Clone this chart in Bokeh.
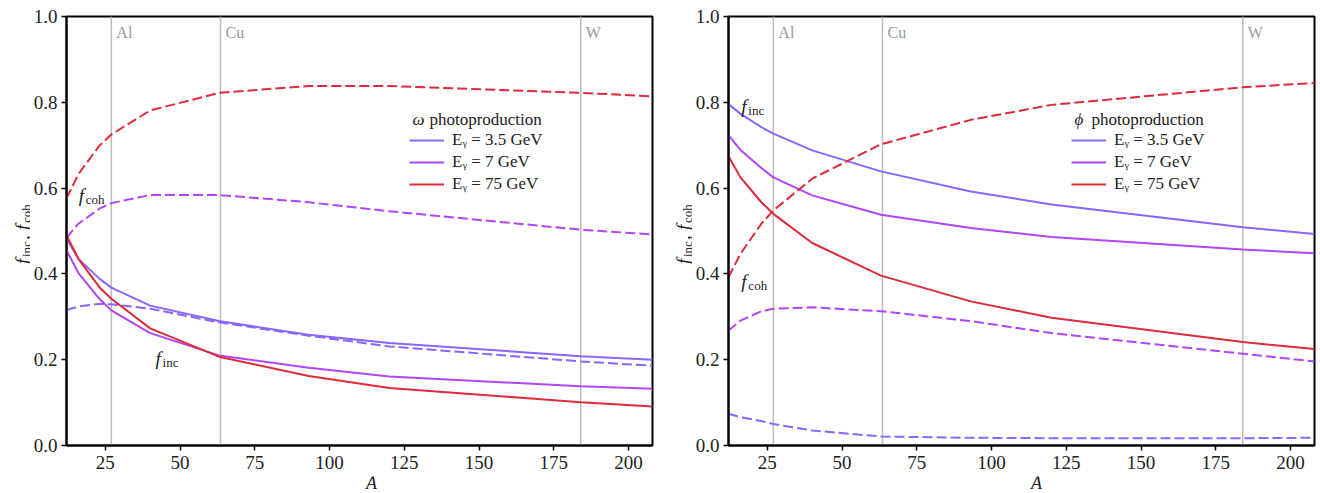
import math
from bokeh.plotting import figure
from bokeh.models import (Span, Label, Legend, LegendItem, FixedTicker,
                          NumeralTickFormatter, Range1d)
from bokeh.layouts import row, column
from bokeh.embed import file_html
from bokeh.resources import INLINE

# ---------------- data ----------------
A = [12, 16, 23, 27, 40, 63, 93, 120, 184, 208]

energies = ["3.5", "7", "75"]

omega_inc_35 = [0.482, 0.435, 0.389, 0.368, 0.326, 0.290, 0.258, 0.239, 0.208, 0.200]
omega_coh_35 = [0.316, 0.324, 0.330, 0.329, 0.319, 0.287, 0.256, 0.231, 0.196, 0.186]
omega_inc_7 = [0.455, 0.402, 0.342, 0.315, 0.262, 0.210, 0.181, 0.161, 0.138, 0.132]
omega_coh_7 = [0.484, 0.517, 0.552, 0.565, 0.584, 0.584, 0.567, 0.546, 0.503, 0.492]
omega_inc_75 = [0.490, 0.435, 0.369, 0.342, 0.273, 0.207, 0.162, 0.134, 0.101, 0.091]
omega_coh_75 = [0.576, 0.633, 0.699, 0.725, 0.781, 0.822, 0.838, 0.838, 0.822, 0.814]

phi_inc_35 = [0.796, 0.773, 0.742, 0.727, 0.688, 0.639, 0.592, 0.562, 0.509, 0.493]
phi_coh_35 = [0.074, 0.066, 0.057, 0.050, 0.035, 0.021, 0.018, 0.017, 0.017, 0.018]
phi_inc_7 = [0.723, 0.689, 0.647, 0.625, 0.583, 0.538, 0.507, 0.486, 0.457, 0.448]
phi_coh_7 = [0.268, 0.291, 0.313, 0.319, 0.322, 0.313, 0.290, 0.262, 0.214, 0.196]
phi_inc_75 = [0.674, 0.625, 0.567, 0.540, 0.472, 0.396, 0.336, 0.298, 0.241, 0.225]
phi_coh_75 = [0.392, 0.447, 0.517, 0.548, 0.622, 0.702, 0.759, 0.794, 0.835, 0.845]

elements = ["Al", "Cu", "W"]
element_A = [27, 63.5, 184]

x_ticks = [25, 50, 75, 100, 125, 150, 175, 200]
y_ticks = [0.0, 0.2, 0.4, 0.6, 0.8, 1.0]

# ---------------- style ----------------
colors = ["#8866ff", "#b144ff", "#e02a3a"]
SERIF = "Liberation Serif"
INK = "#222222"
FRAME_W, FRAME_H = 586, 429
TOP, BOTTOM, LEFT = 16, 31, 36
TOTAL_H = 493
LABEL_W = 30


def lab(p, x, y, text, size, style="normal", **kw):
    args = dict(x=x, y=y, text=text, text_font=SERIF, text_font_size=f"{size}px",
                text_font_style=style, text_color=INK)
    args.update(kw)
    p.add_layout(Label(**args))


def blank(width, height):
    f = figure(width=width, height=height, x_range=Range1d(0, width),
               y_range=Range1d(height, 0), min_border=0,
               output_backend="svg", toolbar_location=None,
               x_axis_type=None, y_axis_type=None)
    f.grid.visible = False
    f.outline_line_color = None
    f.background_fill_color = None
    f.border_fill_color = None
    return f


def ylabel_fig(baseline_x):
    f = blank(LABEL_W, TOTAL_H)
    y0 = TOP + FRAME_H / 2 + 33
    pieces = [("f", 19, "italic", 0, 0), ("inc", 13, "normal", 4, 7),
              (",", 19, "normal", 0, 24), ("f", 19, "italic", 0, 34),
              ("coh", 13, "normal", 4, 41)]
    for txt, sz, st, sx, dy in pieces:
        lab(f, baseline_x + sx, y0 - dy, txt, sz, st, angle=math.pi / 2,
            text_align="left", text_baseline="alphabetic")
    return f


def xlabel_fig(width):
    h = TOTAL_H - (TOP + FRAME_H + BOTTOM)
    f = blank(width, h)
    lab(f, LEFT + FRAME_W / 2, h / 2 - 2, "A", 18, "italic",
        text_align="center", text_baseline="middle")
    return f


def sub_label(p, x, y, main, sub):
    lab(p, x, y, main, 19, "italic", text_align="left", text_baseline="alphabetic")
    lab(p, x, y, sub, 13, x_offset=7, y_offset=-4,
        text_align="left", text_baseline="alphabetic")


def make_panel(particle, incs, cohs, annots, border_right):
    p = figure(frame_width=FRAME_W, frame_height=FRAME_H,
               x_range=Range1d(12, 208), y_range=Range1d(0, 1),
               output_backend="svg", toolbar_location=None,
               min_border_left=LEFT, min_border_right=border_right,
               min_border_top=TOP, min_border_bottom=BOTTOM)
    p.grid.visible = False
    p.outline_line_color = "black"
    p.outline_line_width = 2
    p.background_fill_color = "white"

    for ax in (p.xaxis[0], p.yaxis[0]):
        ax.axis_line_width = 2
        ax.axis_line_color = "black"
        ax.major_tick_line_width = 1.5
        ax.major_tick_out = 5
        ax.major_tick_in = 0
        ax.minor_tick_line_color = None
        ax.major_label_text_font = SERIF
        ax.major_label_text_font_size = "19px"
        ax.major_label_text_color = INK
    p.xaxis.ticker = FixedTicker(ticks=x_ticks)
    p.yaxis.ticker = FixedTicker(ticks=y_ticks)
    p.yaxis.formatter = NumeralTickFormatter(format="0.0")
    p.xaxis.major_label_standoff = 5
    p.yaxis.major_label_standoff = 4

    for name, a in zip(elements, element_A):
        p.add_layout(Span(location=a, dimension="height", line_color="#bcbcbc",
                          line_width=1.5, level="underlay"))
        p.add_layout(Label(x=a, y=0.962, x_offset=5, text=name,
                           text_font=SERIF, text_font_size="16px",
                           text_color="#9a9a9a", text_baseline="middle",
                           text_align="left"))

    items = []
    for e, c, inc, coh in zip(energies, colors, incs, cohs):
        r = p.line(A, inc, line_color=c, line_width=2)
        p.line(A, coh, line_color=c, line_width=2, line_dash="10 4")
        items.append(LegendItem(label=f"E\u1d67 = {e} GeV", renderers=[r]))

    leg = Legend(items=items, location=(343, 251),
                 label_text_font=SERIF, label_text_font_size="17px",
                 label_text_color=INK,
                 border_line_alpha=0, background_fill_alpha=0,
                 padding=0, margin=0, spacing=2, glyph_width=35, glyph_height=20,
                 label_height=20, label_standoff=8)
    p.add_layout(leg)
    # legend title: italic particle symbol + text
    lab(p, 127.7, 0.760, particle, 17, "italic", text_align="left", text_baseline="middle")
    lab(p, 127.7, 0.760, "photoproduction", 17, x_offset=17,
        text_align="left", text_baseline="middle")

    for (x, y, main, sub) in annots:
        sub_label(p, x, y, main, sub)
    return p


p1 = make_panel("\u03c9",
                [omega_inc_35, omega_inc_7, omega_inc_75],
                [omega_coh_35, omega_coh_7, omega_coh_75],
                [(16.1, 0.583, "f", "coh"), (41.8, 0.203, "f", "inc")],
                10)
p2 = make_panel("\u03d5",
                [phi_inc_35, phi_inc_7, phi_inc_75],
                [phi_coh_35, phi_coh_7, phi_coh_75],
                [(16.3, 0.790, "f", "inc"), (16.3, 0.382, "f", "coh")],
                4)

W1 = LEFT + FRAME_W + 10
W2 = LEFT + FRAME_W + 4
layout = row(ylabel_fig(22), column(p1, xlabel_fig(W1)),
             ylabel_fig(21), column(p2, xlabel_fig(W2)))
open("out.html", "w").write(file_html(layout, INLINE))
